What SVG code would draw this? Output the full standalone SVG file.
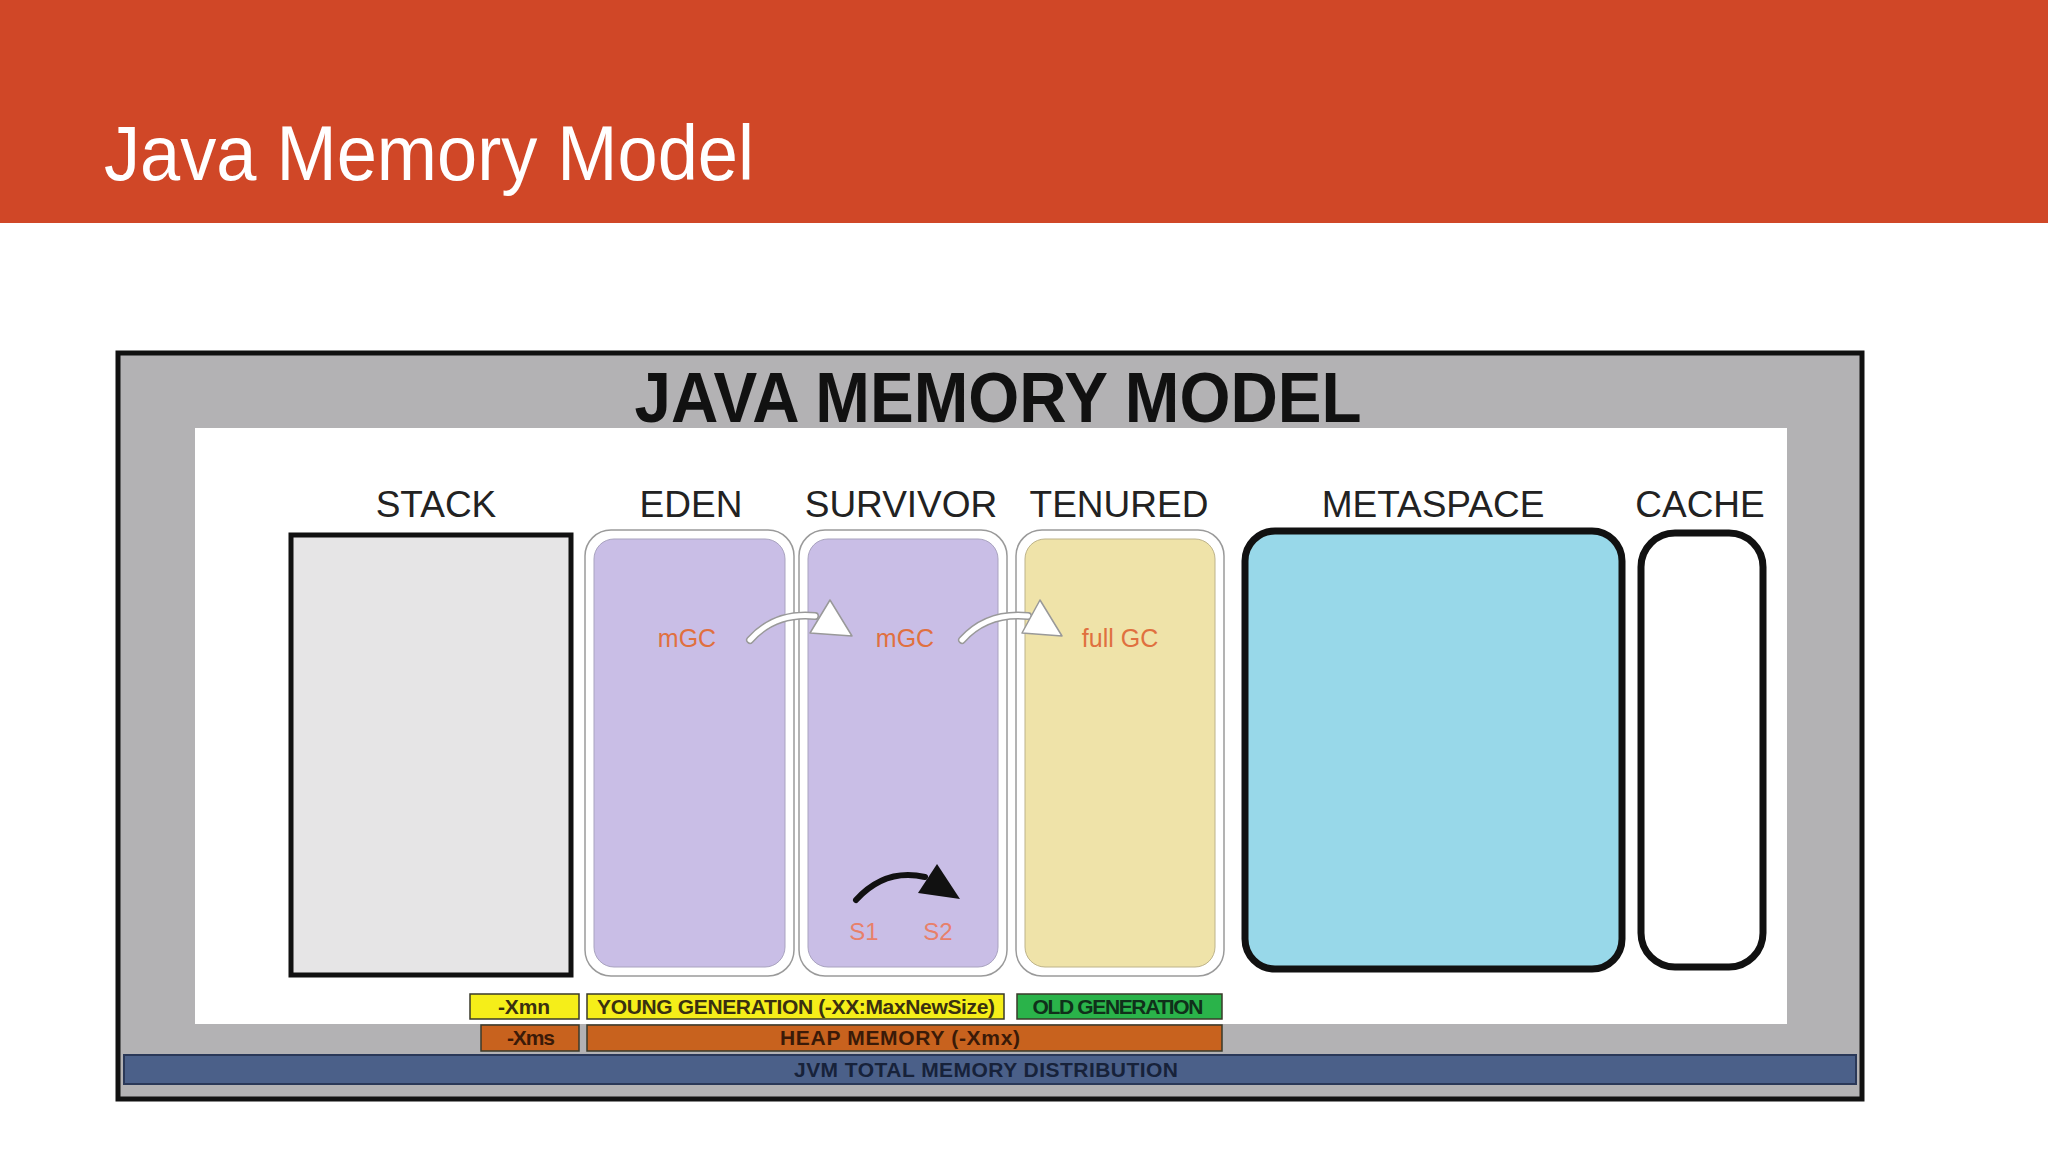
<svg xmlns="http://www.w3.org/2000/svg" width="2048" height="1152" viewBox="0 0 2048 1152">
<style>
.lbl{font-family:"Liberation Sans",Arial,sans-serif;font-size:37px;fill:#222;text-anchor:middle}
.gc{font-family:"Liberation Sans",Arial,sans-serif;font-size:25px;fill:#E0703F;text-anchor:middle}
.s{font-family:"Liberation Sans",Arial,sans-serif;font-size:24px;fill:#E8806A;text-anchor:middle}
.bar{font-family:"Liberation Sans",Arial,sans-serif;font-size:21px;font-weight:bold;text-anchor:middle;lengthAdjust:spacingAndGlyphs}
.outer{fill:#fff;stroke:#9a9a9a;stroke-width:1.5}
.barbox{stroke:#3a3a2a;stroke-width:1.5}
</style>
<rect width="2048" height="1152" fill="#fff"/>
<rect x="0" y="0" width="2048" height="223" fill="#D04727"/>
<text x="104" y="180" font-family="Liberation Sans, Arial, sans-serif" font-size="78" fill="#fff" textLength="650" lengthAdjust="spacingAndGlyphs">Java Memory Model</text>

<g id="frame">
<rect x="118" y="353" width="1744" height="746" fill="#B3B2B4" stroke="#111" stroke-width="5"/>
<rect x="195" y="428" width="1592" height="596" fill="#fff"/>
<text x="998" y="422" font-family="Liberation Sans, Arial, sans-serif" font-size="70" font-weight="bold" fill="#111" text-anchor="middle" textLength="727" lengthAdjust="spacingAndGlyphs">JAVA MEMORY MODEL</text>
</g>

<g id="stack">
<text class="lbl" x="436" y="517">STACK</text>
<rect x="291" y="535" width="280" height="440" fill="#E6E5E6" stroke="#111" stroke-width="5"/>
</g>
<g id="eden">
<text class="lbl" x="691" y="517">EDEN</text>
<rect class="outer" x="585" y="530" width="209" height="446" rx="26"/>
<rect x="594" y="539" width="191" height="428" rx="20" fill="#C9BEE6" stroke="#a9a3bf" stroke-width="1"/>
<text class="gc" x="687" y="647">mGC</text>
</g>
<g id="survivor">
<text class="lbl" x="901" y="517">SURVIVOR</text>
<rect class="outer" x="799" y="530" width="208" height="446" rx="26"/>
<rect x="808" y="539" width="190" height="428" rx="20" fill="#C9BEE6" stroke="#a9a3bf" stroke-width="1"/>
<text class="gc" x="905" y="647">mGC</text>
<text class="s" x="864" y="940">S1</text>
<text class="s" x="938" y="940">S2</text>
</g>
<g id="tenured">
<text class="lbl" x="1119" y="517">TENURED</text>
<rect class="outer" x="1016" y="530" width="208" height="446" rx="26"/>
<rect x="1025" y="539" width="190" height="428" rx="20" fill="#EFE3A9" stroke="#bdb38a" stroke-width="1"/>
<text class="gc" x="1120" y="647">full GC</text>
</g>
<g id="metaspace">
<text class="lbl" x="1433" y="517">METASPACE</text>
<rect x="1245" y="531" width="377" height="438" rx="30" fill="#98D8E9" stroke="#111" stroke-width="7"/>
</g>
<g id="cache">
<text class="lbl" x="1700" y="517">CACHE</text>
<rect x="1641" y="533" width="122" height="434" rx="34" fill="#fff" stroke="#111" stroke-width="7"/>
</g>

<g id="connectors">
<g fill="none" stroke-linecap="round">
<path d="M750 640 Q775 612 815 616" stroke="#999" stroke-width="8"/>
<path d="M750 640 Q775 612 815 616" stroke="#fff" stroke-width="5"/>
<path d="M962 640 Q987 612 1028 616" stroke="#999" stroke-width="8"/>
<path d="M962 640 Q987 612 1028 616" stroke="#fff" stroke-width="5"/>
</g>
<polygon points="830,600 810,633 852,636" fill="#fff" stroke="#999" stroke-width="1.5" stroke-linejoin="round"/>
<polygon points="1040,600 1022,633 1062,636" fill="#fff" stroke="#999" stroke-width="1.5" stroke-linejoin="round"/>
<path d="M856 900 Q885 868 925 877" fill="none" stroke="#111" stroke-width="6" stroke-linecap="round"/>
<polygon points="918,893 937,864 960,899" fill="#111"/>
</g>

<g id="bars">
<rect class="barbox" x="470" y="994" width="109" height="25" fill="#F5EE19"/>
<text class="bar" x="524" y="1014" fill="#3a3010" textLength="52">-Xmn</text>
<rect class="barbox" x="587" y="994" width="417" height="25" fill="#F5EE19"/>
<text class="bar" x="796" y="1014" fill="#3a3010" textLength="398">YOUNG GENERATION (-XX:MaxNewSize)</text>
<rect class="barbox" x="1017" y="994" width="205" height="25" fill="#2AB34A"/>
<text class="bar" x="1118" y="1014" fill="#10301a" textLength="171">OLD GENERATION</text>
<rect class="barbox" x="481" y="1025" width="98" height="26" fill="#C8621E"/>
<text class="bar" x="531" y="1045" fill="#3a1a08" textLength="48">-Xms</text>
<rect class="barbox" x="587" y="1025" width="635" height="26" fill="#C8621E"/>
<text class="bar" x="900" y="1045" fill="#3a1a08" textLength="240">HEAP MEMORY (-Xmx)</text>
<rect x="124" y="1055" width="1732" height="29" fill="#4B6089" stroke="#2A3858" stroke-width="2"/>
<text class="bar" x="986" y="1077" fill="#17223a" textLength="384">JVM TOTAL MEMORY DISTRIBUTION</text>
</g>
</svg>
